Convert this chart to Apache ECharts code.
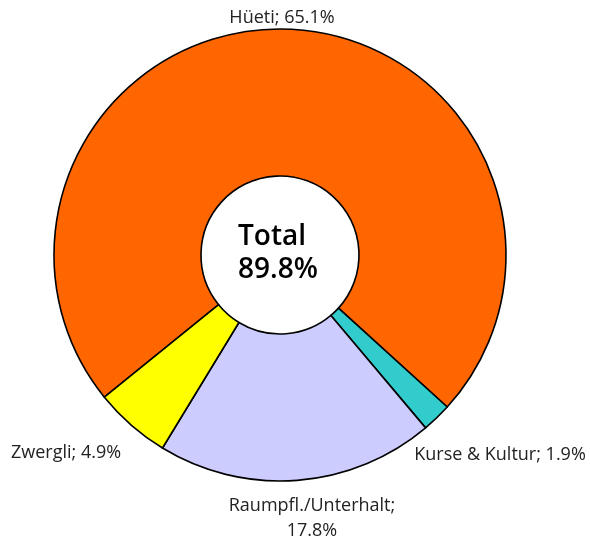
<!DOCTYPE html>
<html>
<head>
<meta charset="utf-8">
<script src="https://cdn.jsdelivr.net/npm/echarts@6/dist/echarts.min.js"></script>
<style>
html,body{margin:0;padding:0;background:#fff;}
#chart{width:590px;height:543px;}
</style>
</head>
<body>
<div id="chart"></div>
<script>
var categories = ['Hüeti', 'Kurse & Kultur', 'Raumpfl./Unterhalt', 'Zwergli'];
var values = [65.1, 1.9, 17.8, 4.9];
var colors = ['#FF6600', '#33CCCC', '#CCCCFF', '#FFFF00'];
var totalLabel = 'Total';
var totalValue = '89.8%';

// label anchor placement (layout styling, center of each label block)
var labelAnchors = [[282, 18], [500, 455], [312, 518], [66, 453]];

var chart = echarts.init(document.getElementById('chart'));
var data = categories.map(function (c, i) {
  return { name: c, value: values[i], itemStyle: { color: colors[i] } };
});
chart.setOption({
  animation: false,
  series: [{
    type: 'pie',
    center: [280, 255],
    radius: [79, 226],
    startAngle: 219,
    clockwise: true,
    data: data,
    itemStyle: { borderColor: '#000', borderWidth: 1.6 },
    label: {
      show: true,
      position: 'outside',
      fontFamily: 'Open Sans',
      fontSize: 18,
      color: '#222',
      lineHeight: 25,
      align: 'center',
      overflow: 'none',
      formatter: function (p) {
        var sep = p.name.length > 15 ? '\n' : ' ';
        return p.name + ';' + sep + p.value + '%';
      }
    },
    labelLine: { show: false, length: 6, length2: 0 },
    labelLayout: function (params) {
      var a = labelAnchors[params.dataIndex];
      return { x: a[0], y: a[1], align: 'center', verticalAlign: 'middle' };
    }
  }],
  graphic: [{
    type: 'text',
    x: 238,
    y: 254,
    style: {
      text: totalLabel + '\n' + totalValue,
      fontFamily: 'Open Sans',
      fontWeight: 600,
      fontSize: 28,
      lineHeight: 33,
      fill: '#000',
      align: 'left',
      verticalAlign: 'middle'
    }
  }]
});
</script>
</body>
</html>
